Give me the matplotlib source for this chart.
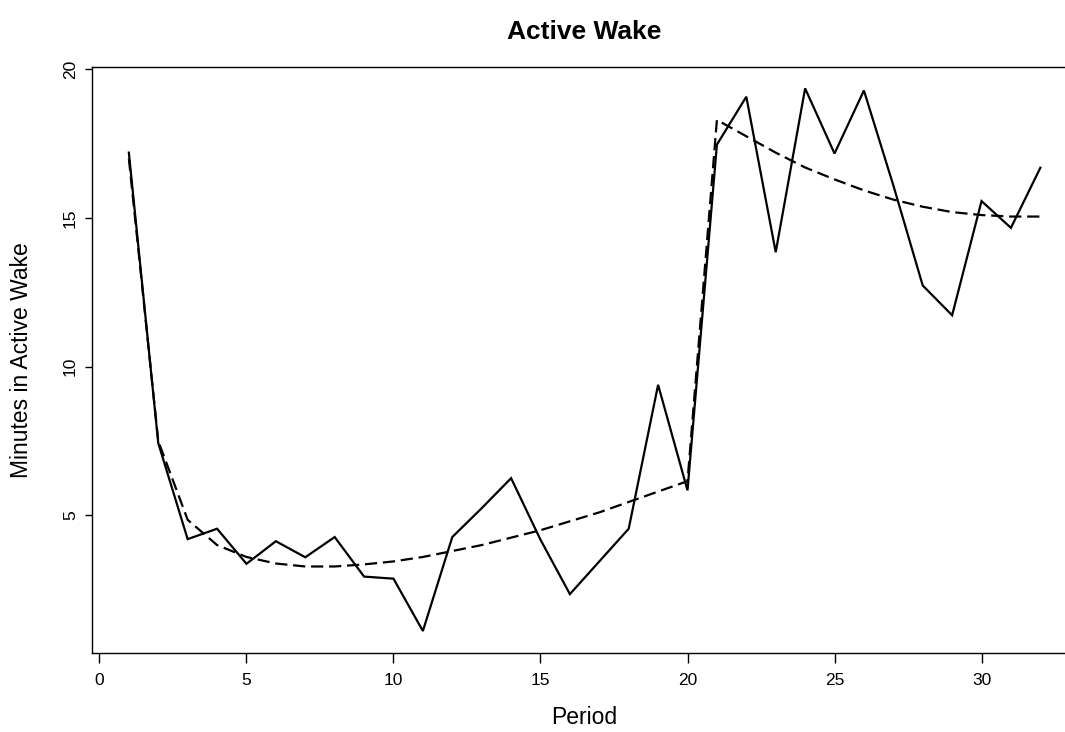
import matplotlib
matplotlib.use("Agg")
import matplotlib.pyplot as plt

plt.rcParams['font.family'] = ['Liberation Sans', 'DejaVu Sans']

period = list(range(1, 33))
active_wake = [17.2, 7.43, 4.20, 4.55, 3.37, 4.13, 3.59, 4.27, 2.94, 2.87,
               1.11, 4.27, 5.24, 6.25, 4.18, 2.35, 3.45, 4.55, 9.39, 5.84,
               17.47, 19.08, 13.85, 19.36, 17.17, 19.29, 16.1, 12.73, 11.73, 15.57,
               14.67, 16.69]
fitted = [17.0, 7.5, 4.85, 4.0, 3.6, 3.38, 3.28, 3.28, 3.35, 3.45,
          3.6, 3.8, 4.0, 4.25, 4.5, 4.8, 5.1, 5.45, 5.8, 6.15,
          18.3, 17.75, 17.2, 16.7, 16.3, 15.93, 15.62, 15.38, 15.2, 15.1,
          15.05, 15.05]
xticks = [0, 5, 10, 15, 20, 25, 30]
yticks = [5, 10, 15, 20]

W, H = 1065, 732
fig = plt.figure(figsize=(W / 100, H / 100), dpi=100)
ax = fig.add_axes([92.4 / W, (H - 653) / H, (1076.8 - 92.4) / W, (653 - 67) / H])

ax.plot(period, active_wake, color='black', lw=1.6, solid_joinstyle='miter')
ax.plot(period, fitted, color='black', lw=1.6, linestyle=(0, (5.5, 2.6)))

ax.set_xlim(-0.24, 33.24)
ax.set_ylim(0.37, 20.08)
ax.set_xticks(xticks)
ax.set_yticks(yticks)
ax.set_xticklabels([str(v) for v in xticks])
ax.set_yticklabels([str(v) for v in yticks], rotation=90, va='center')
ax.tick_params(axis='x', direction='out', length=7.2, width=1, pad=7.5, labelsize=12.5)
ax.tick_params(axis='y', direction='out', length=5, width=1, pad=5.5, labelsize=12.5)
for s in ax.spines.values():
    s.set_linewidth(1)

ax.set_xlabel('Period', fontsize=16.5)
ax.xaxis.set_label_coords(0.5, (653 - 718) / (653 - 67))
ax.xaxis.label.set_va('center')
ax.set_ylabel('Minutes in Active Wake', fontsize=16.5)
ax.yaxis.set_label_coords((22 - 92.4) / (1076.8 - 92.4), 0.5)
ax.yaxis.label.set_va('center')

fig.text(584.5 / W, 1 - 32 / H, 'Active Wake', ha='center', va='center',
         fontsize=19, fontweight='bold')

fig.savefig('out.png', dpi=100)
